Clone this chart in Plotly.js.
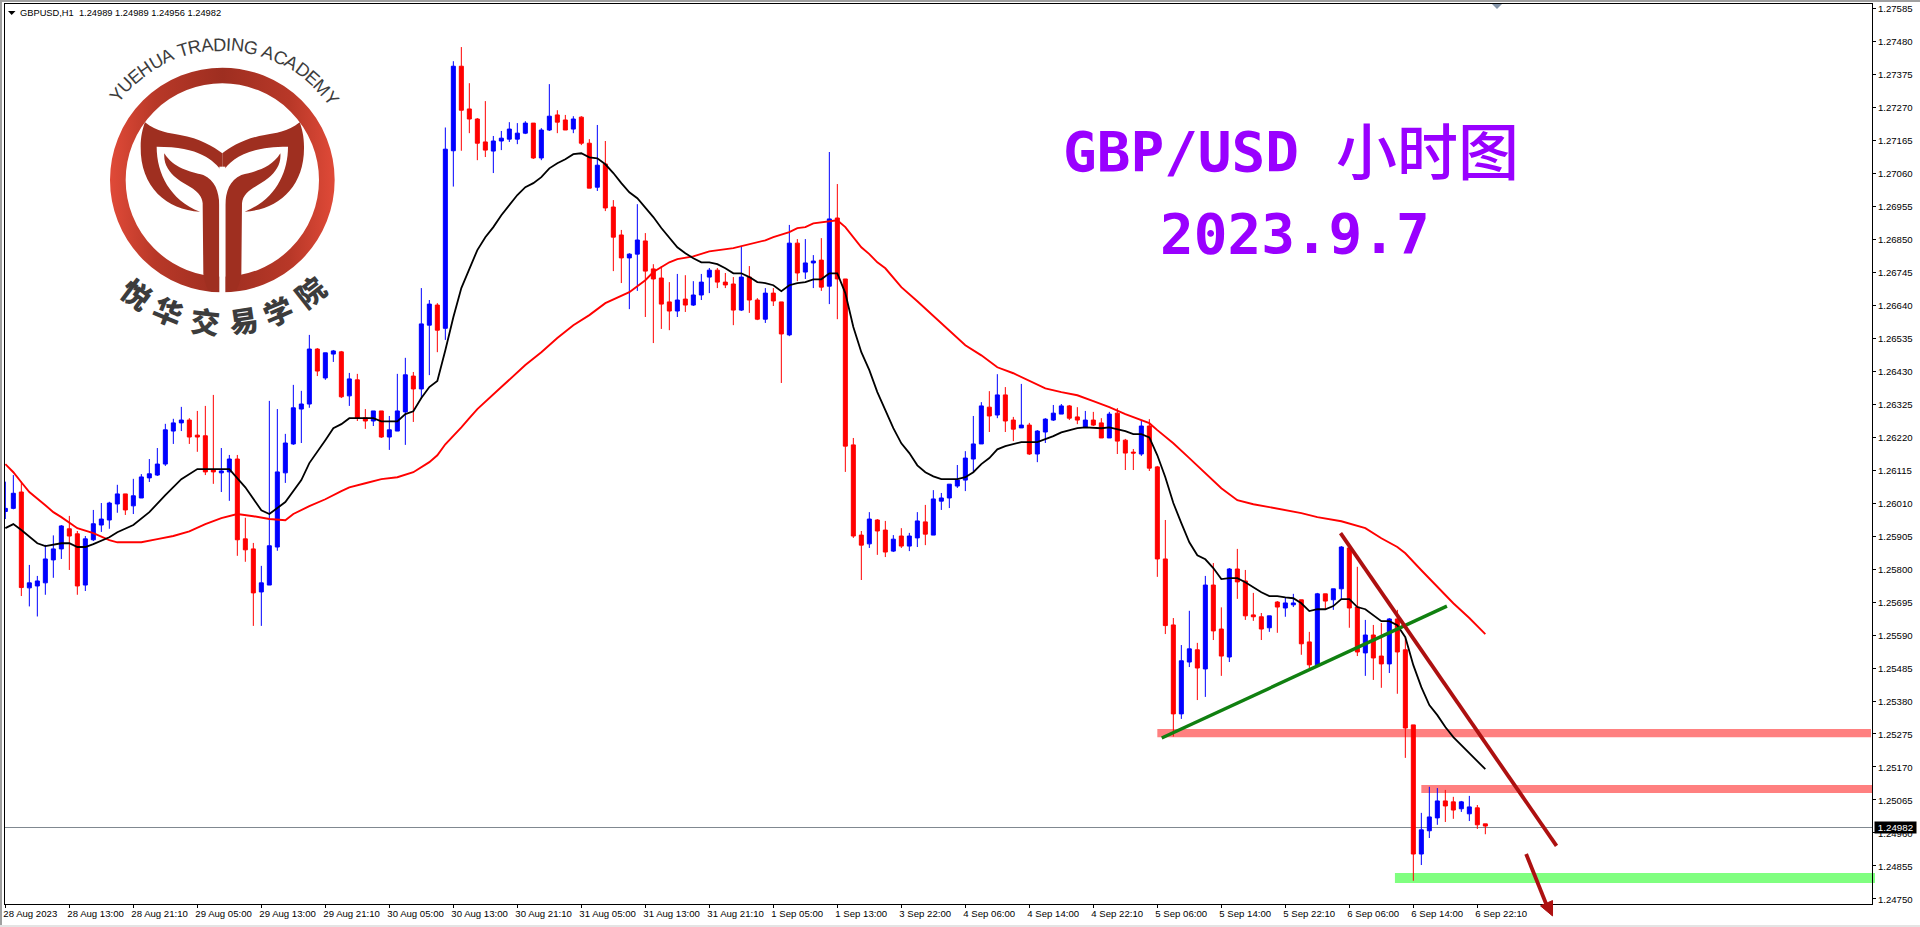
<!DOCTYPE html>
<html><head><meta charset="utf-8">
<script src="https://cdn.plot.ly/plotly-3.0.1.min.js"></script>
<style>html,body{margin:0;padding:0;background:#fff;overflow:hidden}#chart{width:1920px;height:927px}</style>
</head><body><div id="chart"></div>
<script>
const opens=[1.25983,1.25993,1.26045,1.25740,1.25746,1.25756,1.25829,1.25864,1.25928,1.25912,
1.25749,1.25893,1.25940,1.25956,1.26007,1.26039,1.26001,1.26026,1.26090,1.26099,
1.26134,1.26239,1.26265,1.26274,1.26226,1.26224,1.26115,1.26106,1.26109,1.26150,
1.25896,1.25864,1.25727,1.25749,1.25870,1.26106,1.26198,1.26309,1.26325,1.26500,
1.26408,1.26484,1.26491,1.26351,1.26402,1.26281,1.26271,1.26303,1.26220,1.26239,
1.26300,1.26414,1.26373,1.26576,1.26640,1.26566,1.27131,1.27400,1.27264,1.27232,
1.27159,1.27130,1.27162,1.27168,1.27168,1.27187,1.27219,1.27108,1.27197,1.27245,
1.27229,1.27200,1.27238,1.27155,1.27015,1.27089,1.26952,1.26863,1.26790,1.26802,
1.26844,1.26755,1.26726,1.26650,1.26621,1.26659,1.26640,1.26672,1.26729,1.26751,
1.26713,1.26707,1.26624,1.26729,1.26656,1.26595,1.26678,1.26650,1.26545,1.26837,
1.26745,1.26774,1.26783,1.26700,1.26917,1.26723,1.26195,1.25908,1.25880,1.25956,
1.25924,1.25857,1.25905,1.25873,1.25899,1.25950,1.25908,1.26016,1.26026,1.26064,
1.26083,1.26150,1.26198,1.26315,1.26290,1.26354,1.26274,1.26249,1.26258,1.26166,
1.26236,1.26274,1.26293,1.26319,1.26284,1.26252,1.26274,1.26265,1.26217,1.26296,
1.26210,1.26172,1.26166,1.26255,1.26125,1.25832,1.25622,1.25339,1.25504,1.25543,
1.25482,1.25749,1.25609,1.25520,1.25800,1.25762,1.25654,1.25648,1.25613,1.25695,
1.25676,1.25686,1.25702,1.25568,1.25495,1.25721,1.25702,1.25737,1.25867,1.25679,
1.25533,1.25590,1.25523,1.25498,1.25641,1.25543,1.25304,1.24893,1.24967,1.25008,
1.25062,1.25059,1.25037,1.25021,1.25040,1.24989];
const highs=[1.26078,1.26099,1.26078,1.25813,1.25778,1.25877,1.25907,1.25940,1.25969,1.25921,
1.25905,1.25988,1.26010,1.26014,1.26068,1.26039,1.26087,1.26102,1.26150,1.26185,
1.26262,1.26278,1.26316,1.26280,1.26303,1.26319,1.26354,1.26185,1.26163,1.26163,
1.25963,1.25883,1.25810,1.26335,1.26309,1.26230,1.26386,1.26367,1.26545,1.26503,
1.26488,1.26497,1.26494,1.26424,1.26421,1.26309,1.26303,1.26303,1.26287,1.26421,
1.26472,1.26427,1.26694,1.26656,1.26646,1.27205,1.27416,1.27461,1.27346,1.27235,
1.27289,1.27178,1.27194,1.27222,1.27219,1.27225,1.27219,1.27203,1.27343,1.27260,
1.27245,1.27241,1.27241,1.27168,1.27213,1.27162,1.26974,1.26879,1.26805,1.26961,
1.26869,1.26770,1.26764,1.26713,1.26739,1.26735,1.26716,1.26739,1.26758,1.26758,
1.26742,1.26729,1.26828,1.26764,1.26662,1.26694,1.26694,1.26650,1.26895,1.26850,
1.26850,1.26799,1.26853,1.27127,1.27025,1.26723,1.26217,1.25921,1.25981,1.25959,
1.25953,1.25908,1.25930,1.25915,1.25981,1.26004,1.26051,1.26042,1.26070,1.26131,
1.26175,1.26287,1.26331,1.26366,1.26420,1.26379,1.26284,1.26389,1.26265,1.26242,
1.26280,1.26322,1.26325,1.26322,1.26315,1.26303,1.26300,1.26280,1.26300,1.26312,
1.26214,1.26182,1.26274,1.26277,1.26128,1.25956,1.25644,1.25558,1.25667,1.25565,
1.25778,1.25819,1.25678,1.25803,1.25864,1.25797,1.25724,1.25660,1.25651,1.25698,
1.25708,1.25721,1.25702,1.25600,1.25724,1.25721,1.25737,1.25873,1.25867,1.25807,
1.25638,1.25622,1.25628,1.25644,1.25670,1.25581,1.25304,1.25024,1.25107,1.25103,
1.25097,1.25075,1.25062,1.25078,1.25049,1.24989];
const lows=[1.25959,1.25990,1.25714,1.25681,1.25649,1.25718,1.25772,1.25832,1.25797,1.25718,
1.25730,1.25889,1.25918,1.25928,1.25979,1.25972,1.25975,1.26026,1.26077,1.26096,
1.26128,1.26198,1.26239,1.26198,1.26173,1.26099,1.26071,1.26045,1.26017,1.25842,
1.25823,1.25619,1.25619,1.25749,1.25858,1.26074,1.26195,1.26201,1.26313,1.26414,
1.26402,1.26459,1.26344,1.26319,1.26271,1.26246,1.26255,1.26217,1.26179,1.26239,
1.26195,1.26268,1.26344,1.26417,1.26490,1.26529,1.27017,1.27131,1.27187,1.27101,
1.27111,1.27060,1.27133,1.27159,1.27152,1.27184,1.27105,1.27101,1.27194,1.27187,
1.27197,1.27187,1.27149,1.27012,1.27003,1.26939,1.26748,1.26710,1.26627,1.26685,
1.26602,1.26519,1.26564,1.26560,1.26602,1.26618,1.26637,1.26656,1.26678,1.26694,
1.26694,1.26576,1.26621,1.26615,1.26592,1.26583,1.26637,1.26392,1.26541,1.26716,
1.26723,1.26694,1.26685,1.26643,1.26595,1.26109,1.25899,1.25765,1.25867,1.25845,
1.25838,1.25854,1.25867,1.25857,1.25870,1.25876,1.25908,1.25988,1.25994,1.26058,
1.26048,1.26109,1.26198,1.26236,1.26280,1.26236,1.26207,1.26249,1.26163,1.26140,
1.26201,1.26271,1.26293,1.26274,1.26261,1.26249,1.26255,1.26217,1.26217,1.26166,
1.26115,1.26115,1.26160,1.26112,1.25775,1.25593,1.25267,1.25323,1.25488,1.25383,
1.25393,1.25574,1.25460,1.25504,1.25705,1.25638,1.25635,1.25574,1.25600,1.25597,
1.25648,1.25679,1.25527,1.25485,1.25492,1.25670,1.25670,1.25705,1.25613,1.25523,
1.25460,1.25447,1.25422,1.25469,1.25403,1.25199,1.24808,1.24858,1.24944,1.24986,
1.24995,1.25005,1.25027,1.24998,1.24973,1.24956];
const closes=[1.25993,1.26041,1.25741,1.25756,1.25762,1.25832,1.25864,1.25937,1.25905,1.25746,
1.25896,1.25944,1.25959,1.26010,1.26039,1.25988,1.26033,1.26093,1.26103,1.26134,
1.26243,1.26265,1.26274,1.26220,1.26220,1.26109,1.26109,1.26112,1.26150,1.25893,
1.25861,1.25724,1.25756,1.25874,1.26109,1.26201,1.26313,1.26325,1.26500,1.26430,
1.26488,1.26494,1.26348,1.26405,1.26281,1.26271,1.26303,1.26220,1.26243,1.26303,
1.26418,1.26373,1.26580,1.26643,1.26560,1.27136,1.27400,1.27260,1.27232,1.27155,
1.27133,1.27162,1.27171,1.27200,1.27187,1.27219,1.27108,1.27197,1.27241,1.27222,
1.27197,1.27232,1.27155,1.27012,1.27085,1.26949,1.26856,1.26790,1.26802,1.26847,
1.26748,1.26723,1.26643,1.26621,1.26656,1.26640,1.26672,1.26713,1.26751,1.26713,
1.26704,1.26624,1.26729,1.26656,1.26595,1.26678,1.26653,1.26548,1.26837,1.26742,
1.26774,1.26780,1.26697,1.26914,1.26723,1.26191,1.25905,1.25876,1.25959,1.25921,
1.25854,1.25895,1.25873,1.25905,1.25953,1.25911,1.26023,1.26026,1.26070,1.26083,
1.26153,1.26198,1.26319,1.26287,1.26354,1.26271,1.26245,1.26258,1.26166,1.26239,
1.26277,1.26296,1.26319,1.26280,1.26274,1.26274,1.26258,1.26217,1.26293,1.26207,
1.26169,1.26169,1.26255,1.26121,1.25832,1.25620,1.25339,1.25508,1.25546,1.25485,
1.25749,1.25603,1.25523,1.25800,1.25759,1.25651,1.25648,1.25609,1.25651,1.25679,
1.25692,1.25692,1.25562,1.25495,1.25721,1.25698,1.25737,1.25870,1.25676,1.25536,
1.25590,1.25517,1.25498,1.25641,1.25536,1.25294,1.24893,1.24970,1.25011,1.25062,
1.25046,1.25033,1.25059,1.25043,1.24986,1.24982];

const blackBars=[0,1,2,4,5,7,8,9,10,11,13,14,16,18,20,22,24,28,30,32,33,34,35,37,38,40,41,42,43,46,47,49,50,51,52,53,54,55,56,57,58,59,60,61,62,63,64,65,66,67,68,69,70,71,72,73,74,75,76,77,78,79,80,81,82,83,84,85,86,87,88,89,90,91,92,93,94,95,96,97,98,99,100,101,102,103,104,105,106,107,108,109,110,111,112,113,114,115,116,117,119,120,121,122,123,124,125,126,127,129,130,131,132,133,134,135,137,138,139,140,141,142,143,144,145,146,147,148,149,150,151,152,153,154,155,156,157,158,159,160,161,162,163,164,165,166,167,168,169,170,171,172,173,174,175,176,177,178,179,180,181,182,183,184,185];
const blackMA=[1.25930,1.25943,1.25924,1.25882,1.25873,1.25882,1.25882,1.25870,1.25870,1.25879,1.25901,1.25917,1.25940,1.25981,1.26035,1.26086,1.26118,1.26118,1.26060,1.25987,1.25975,1.25994,1.26013,1.26083,1.26137,1.26210,1.26248,1.26261,1.26280,1.26280,1.26270,1.26270,1.26293,1.26302,1.26344,1.26379,1.26398,1.26496,1.26601,1.26694,1.26757,1.26815,1.26856,1.26888,1.26926,1.26958,1.26990,1.27015,1.27028,1.27047,1.27075,1.27091,1.27104,1.27120,1.27123,1.27110,1.27107,1.27088,1.27060,1.27028,1.26999,1.26980,1.26951,1.26920,1.26885,1.26853,1.26824,1.26805,1.26789,1.26776,1.26776,1.26770,1.26757,1.26741,1.26741,1.26729,1.26713,1.26710,1.26703,1.26684,1.26703,1.26710,1.26713,1.26722,1.26722,1.26741,1.26741,1.26678,1.26570,1.26490,1.26433,1.26363,1.26305,1.26248,1.26200,1.26169,1.26130,1.26108,1.26095,1.26086,1.26086,1.26092,1.26108,1.26134,1.26153,1.26181,1.26191,1.26197,1.26204,1.26204,1.26213,1.26223,1.26235,1.26242,1.26248,1.26251,1.26248,1.26251,1.26245,1.26239,1.26229,1.26229,1.26219,1.26162,1.26092,1.26010,1.25946,1.25885,1.25844,1.25831,1.25803,1.25768,1.25771,1.25771,1.25758,1.25742,1.25726,1.25714,1.25714,1.25710,1.25707,1.25691,1.25666,1.25672,1.25672,1.25682,1.25704,1.25704,1.25679,1.25672,1.25653,1.25634,1.25634,1.25621,1.25583,1.25494,1.25424,1.25367,1.25335,1.25297,1.25265,1.25240,1.25214,1.25189,1.25163];
const redBars=[0,1,2,3,5,6,7,9,11,13,14,17,19,21,23,25,27,29,31,33,35,36,38,40,42,43,45,47,49,51,53,54,55,56,57,58,59,62,65,67,69,71,73,75,77,78,80,81,83,84,86,88,91,93,95,96,98,99,100,101,103,104,105,106,107,108,109,110,112,114,116,118,120,122,124,126,128,130,132,134,136,138,140,142,143,144,146,148,150,152,154,156,158,160,162,164,166,167,170,172,174,175,177,179,181,183,185];
const redMA=[1.26134,1.26108,1.26076,1.26045,1.26003,1.25981,1.25965,1.25930,1.25914,1.25892,1.25885,1.25885,1.25895,1.25905,1.25920,1.25943,1.25962,1.25975,1.25968,1.25959,1.25955,1.25975,1.26000,1.26022,1.26048,1.26060,1.26073,1.26086,1.26092,1.26108,1.26140,1.26162,1.26197,1.26223,1.26251,1.26280,1.26309,1.26379,1.26449,1.26490,1.26535,1.26576,1.26608,1.26646,1.26671,1.26681,1.26719,1.26745,1.26776,1.26786,1.26795,1.26811,1.26821,1.26834,1.26846,1.26856,1.26872,1.26885,1.26888,1.26900,1.26907,1.26910,1.26888,1.26856,1.26824,1.26802,1.26776,1.26757,1.26697,1.26652,1.26605,1.26560,1.26512,1.26480,1.26442,1.26423,1.26398,1.26375,1.26363,1.26353,1.26334,1.26315,1.26293,1.26274,1.26264,1.26242,1.26200,1.26153,1.26105,1.26057,1.26019,1.26006,1.25997,1.25987,1.25978,1.25965,1.25955,1.25952,1.25930,1.25898,1.25870,1.25850,1.25796,1.25742,1.25691,1.25644,1.25593];

const yTicks=[1.27585,1.27480,1.27375,1.27270,1.27165,1.27060,1.26955,1.26850,1.26745,1.26640,1.26535,1.26430,1.26325,1.26220,1.26115,1.26010,1.25905,1.25800,1.25695,1.25590,1.25485,1.25380,1.25275,1.25170,1.25065,1.24960,1.24855,1.24750];
const xTickBars=[0,8,16,24,32,40,48,56,64,72,80,88,96,104,112,120,128,136,144,152,160,168,176,184];
const xTickLabels=["28 Aug 2023","28 Aug 13:00","28 Aug 21:10","29 Aug 05:00","29 Aug 13:00","29 Aug 21:10","30 Aug 05:00","30 Aug 13:00","30 Aug 21:10","31 Aug 05:00","31 Aug 13:00","31 Aug 21:10","1 Sep 05:00","1 Sep 13:00","3 Sep 22:00","4 Sep 06:00","4 Sep 14:00","4 Sep 22:10","5 Sep 06:00","5 Sep 14:00","5 Sep 22:10","6 Sep 06:00","6 Sep 14:00","6 Sep 22:10"];

const greenTrendX=[144.55,180.2], greenTrendY=[1.25262,1.25682];
const redTrendX=[166.9,193.9], redTrendY=[1.25914,1.24919];
const arrowX=[190.1,192.7], arrowY=[1.24893,1.24728];
const arrowHeadX=[191.9,193.4,193.4], arrowHeadY=[1.24728,1.24745,1.24696];
const lastPrice=1.24982;
const headerText="GBPUSD,H1  1.24989 1.24989 1.24956 1.24982";
const academyEN="YUEHUA TRADING ACADEMY";
const academyCN=["悦","华","交","易","学","院"];
const academyCNAngle=[-37,-22.4,-6.8,8.5,23,38];

// ---- layout geometry
const W=1920,H=927,mL=5,mR=48,mT=4,mB=23;
const plotW=W-mL-mR,plotH=H-mT-mB;
const xRange=[(mL-5.33)/8,(W-mR-5.33)/8];
const yRange=[1.24734,1.27598];
const pxX=p=>(p-mL)/plotW, pxY=p=>(H-mB-p)/plotH;
const barToPaper=b=>(b-xRange[0])/(xRange[1]-xRange[0]);
const priceToPaper=v=>(v-yRange[0])/(yRange[1]-yRange[0]);

const bars=opens.map((_,i)=>i);
const traces=[
 {type:'candlestick',x:bars,open:opens,high:highs,low:lows,close:closes,whiskerwidth:0,hoverinfo:'skip',showlegend:false,
  increasing:{line:{color:'#0000ff',width:1},fillcolor:'#0000ff'},
  decreasing:{line:{color:'#ff0000',width:1},fillcolor:'#ff0000'}},
 {type:'scatter',mode:'lines',x:redBars,y:redMA,line:{color:'#ff0000',width:1.9},hoverinfo:'skip',showlegend:false},
 {type:'scatter',mode:'lines',x:blackBars,y:blackMA,line:{color:'#000000',width:1.8},hoverinfo:'skip',showlegend:false},
 {type:'scatter',mode:'lines',x:greenTrendX,y:greenTrendY,line:{color:'#108010',width:3.4},hoverinfo:'skip',showlegend:false},
 {type:'scatter',mode:'lines',x:redTrendX,y:redTrendY,line:{color:'#ad1010',width:3.8},hoverinfo:'skip',showlegend:false},
 {type:'scatter',mode:'lines',x:arrowX,y:arrowY,cliponaxis:false,line:{color:'#ad1010',width:3.8},hoverinfo:'skip',showlegend:false}
];

const band=(b0,x1Px,p0,p1,c)=>({type:'rect',layer:'below',xref:'paper',yref:'y',x0:barToPaper(b0),x1:pxX(x1Px),y0:p0,y1:p1,fillcolor:c,line:{width:0}});
const headPath='M'+arrowHeadX.map((b,i)=>barToPaper(b)+','+priceToPaper(arrowHeadY[i])).join(' L')+' Z';
const shapes=[
 band(144,1871,1.25265,1.25291,'#ff8080'),
 band(177,1872,1.25087,1.25113,'#ff8080'),
 band(173.7,1875,1.24801,1.24833,'#80ff80'),
 {type:'line',layer:'below',xref:'paper',yref:'y',ysizemode:'pixel',yanchor:lastPrice,x0:0,x1:1,y0:-1.43,y1:-1.43,line:{color:'#808890',width:1}},
 {type:'path',xref:'paper',yref:'paper',path:headPath,fillcolor:'#ad1010',line:{color:'#ad1010',width:1}},
 // window edges of the terminal
 {type:'rect',xref:'paper',yref:'paper',x0:pxX(0),x1:pxX(2),y0:pxY(H),y1:pxY(0),fillcolor:'#a0a0a0',line:{width:0}},
 {type:'rect',xref:'paper',yref:'paper',x0:pxX(0),x1:pxX(W),y0:pxY(2),y1:pxY(0),fillcolor:'#a0a0a0',line:{width:0}},
 {type:'rect',xref:'paper',yref:'paper',x0:pxX(0),x1:pxX(W),y0:pxY(927),y1:pxY(925),fillcolor:'#e4e4e4',line:{width:0}},
 // small marker triangles
 {type:'path',xref:'paper',yref:'paper',path:`M${pxX(8)},${pxY(11)} L${pxX(15.5)},${pxY(11)} L${pxX(11.7)},${pxY(15)} Z`,fillcolor:'#000',line:{width:0}},
 {type:'path',xref:'paper',yref:'paper',path:`M${pxX(1492)},${pxY(4)} L${pxX(1502)},${pxY(4)} L${pxX(1497)},${pxY(9)} Z`,fillcolor:'#8494a8',line:{width:0}}
];

// logo drawing in the reference's 3x crop coordinates (1440 x 1020 = 480 x 340 page px)
const halfMark=`<path d="M435,367 C470,395 510,400 540,405 C600,415 640,440 667,460 L667,515 C640,480 600,440 470,440 C470,520 510,600 600,635 C500,630 420,560 422,440 C422,410 428,385 435,367 Z"/>
<path d="M493,460 C520,505 570,515 610,525 C645,540 657,575 658,615 L658,850 C650,862 640,872 625,873 C620,860 612,840 610,822 L608,610 C605,570 560,560 530,535 C505,515 490,490 493,460 Z"/>`;
const logoSvg=`<svg xmlns="http://www.w3.org/2000/svg" width="480" height="340" viewBox="0 0 1440 1020">
<defs><linearGradient id="g" x1="330" x2="1005" y1="0" y2="0" gradientUnits="userSpaceOnUse">
<stop offset="0" stop-color="#e04a38"/><stop offset="0.2" stop-color="#b83828"/><stop offset="0.5" stop-color="#9e2e20"/><stop offset="0.8" stop-color="#b83828"/><stop offset="1" stop-color="#e04a38"/></linearGradient></defs>
<circle cx="667" cy="540" r="313.5" fill="none" stroke="url(#g)" stroke-width="47"/>
<g fill="#9f2f20">${halfMark}<g transform="matrix(-1 0 0 1 1334 0)">${halfMark}</g></g>
<rect x="658" y="500" width="18" height="390" fill="#fff"/>
</svg>`;
const images=[{source:'data:image/svg+xml;charset=utf-8,'+encodeURIComponent(logoSvg),xref:'paper',yref:'paper',x:pxX(0),y:pxY(0),sizex:480/plotW,sizey:340/plotH,sizing:'stretch',xanchor:'left',yanchor:'top',layer:'below'}];

const annotations=[];
const textAt=(x,y,t,font,extra)=>annotations.push(Object.assign({xref:'paper',yref:'paper',x:pxX(x),y:pxY(y),text:t,showarrow:false,font:font,xanchor:'left',yanchor:'middle',borderpad:0,borderwidth:0},extra||{}));
const tickFont={family:'"Liberation Sans",Arial,sans-serif',size:9.6,color:'#000'};
textAt(20,12.5,headerText.replace(/  /g,'&nbsp;&nbsp;'),{family:tickFont.family,size:9.3,color:'#000'});
const titleFont={family:'"DejaVu Sans Mono",monospace',size:56,color:'#9900ff',weight:700};
textAt(1063,151,'GBP/USD',titleFont);
textAt(1336,149,'小时图',{family:'"Noto Sans CJK SC",sans-serif',size:61,color:'#9900ff',weight:500});
textAt(1160,233,'2023.9.7',titleFont);

// curved academy name, one real letter per annotation
const cx=222.5,cy=180;
const enSize=18.2;
const mctx=document.createElement('canvas').getContext('2d');
mctx.font=enSize+'px "Liberation Sans"';
const total=mctx.measureText(academyEN).width;
let run=0;const Rtxt=135.5,skew=1*Math.PI/180;
for(const ch of academyEN){
  const w=mctx.measureText(ch).width;
  const a=((run+w/2)-total/2)/Rtxt+skew;
  run+=w;
  if(ch===' ')continue;
  textAt(cx+Rtxt*Math.sin(a),cy-Rtxt*Math.cos(a),ch,{family:'"Liberation Sans",Arial,sans-serif',size:enSize,color:'#3c3c3c'},{xanchor:'center',textangle:a*180/Math.PI});
}
academyCN.forEach((ch,i)=>{
  const a=academyCNAngle[i]*Math.PI/180,R=141;
  textAt(cx+R*Math.sin(a),cy+R*Math.cos(a),ch,{family:'"Noto Sans CJK SC",sans-serif',size:29,color:'#3c3c3c',weight:900},{xanchor:'center',textangle:-academyCNAngle[i]});
});
// last-price tag
annotations.push({xref:'paper',yref:'y',x:pxX(1874),y:lastPrice,yshift:-1,xanchor:'left',yanchor:'middle',text:lastPrice.toFixed(5),showarrow:false,bgcolor:'#000',borderpad:0,width:41,height:11,align:'center',font:{family:tickFont.family,size:9.8,color:'#fff'}});

const layout={
 width:W,height:H,margin:{l:mL,r:mR,t:mT,b:mB,pad:0},paper_bgcolor:'#fff',plot_bgcolor:'rgba(0,0,0,0)',showlegend:false,boxgap:0.5,boxgroupgap:0,dragmode:false,
 xaxis:{type:'linear',range:xRange,rangeslider:{visible:false},tickmode:'array',tickvals:xTickBars,ticktext:xTickLabels,ticks:'outside',ticklen:3,tickwidth:1,tickcolor:'#000',showgrid:false,zeroline:false,showline:true,mirror:true,linecolor:'#000',linewidth:1,tickfont:tickFont,ticklabelposition:'outside right',ticklabelshift:-3,ticklabelstandoff:0,tickangle:0,automargin:false},
 yaxis:{type:'linear',side:'right',range:yRange,tickmode:'array',tickvals:yTicks,tickformat:'.5f',ticks:'outside',ticklen:3,tickwidth:1,tickcolor:'#000',showgrid:false,zeroline:false,showline:true,mirror:true,linecolor:'#000',linewidth:1,tickfont:tickFont,ticklabelshift:1,automargin:false},
 shapes:shapes,images:images,annotations:annotations
};
Plotly.newPlot('chart',traces,layout,{displayModeBar:false,responsive:false,staticPlot:true});
</script></body></html>
